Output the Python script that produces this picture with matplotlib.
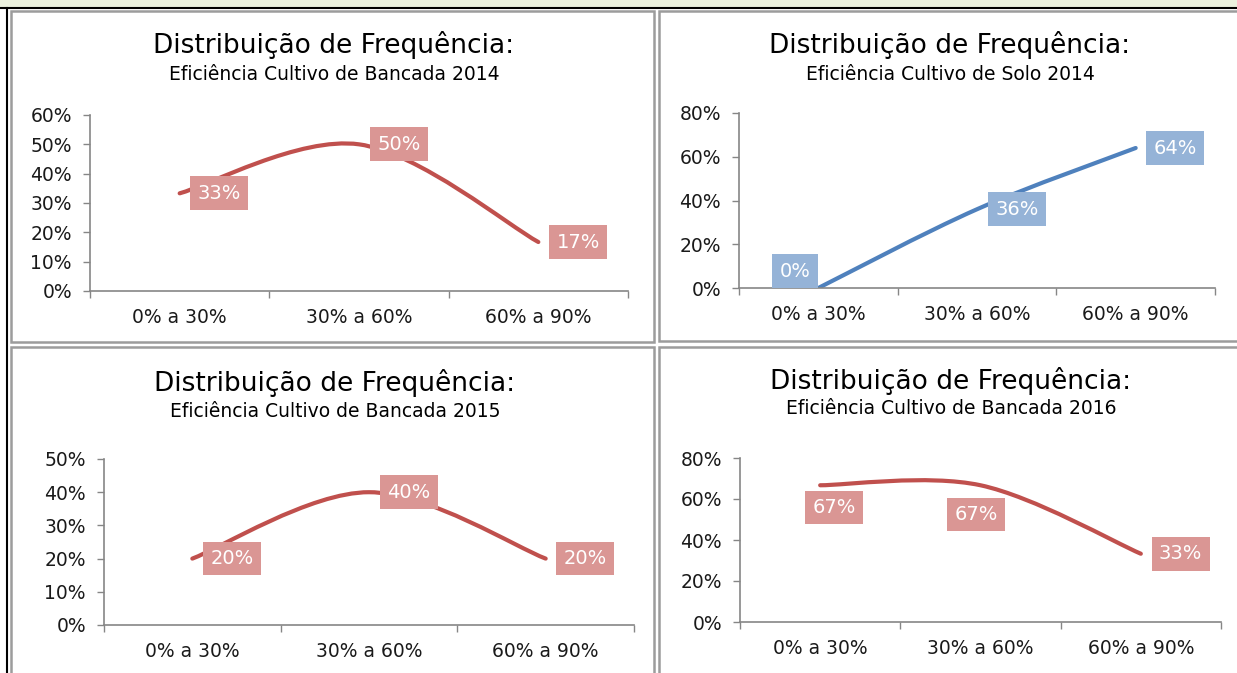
import matplotlib.pyplot as plt
from matplotlib.path import Path
from matplotlib.patches import PathPatch, Rectangle
from matplotlib.ticker import PercentFormatter

plt.rcParams['font.family'] = ['DejaVu Sans']

W, H = 1237, 673

categorias = ['0% a 30%', '30% a 60%', '60% a 90%']

bancada_2014 = [0.333, 0.50, 0.167]
solo_2014 = [0.0, 0.36, 0.64]
bancada_2015 = [0.20, 0.40, 0.20]
bancada_2016 = [0.667, 0.667, 0.333]

titulo = 'Distribuição de Frequência:'
subtitulos = ['Eficiência Cultivo de Bancada 2014',
              'Eficiência Cultivo de Solo 2014',
              'Eficiência Cultivo de Bancada 2015',
              'Eficiência Cultivo de Bancada 2016']

RED, RED_LBL = '#C0504D', '#DA9694'
BLUE, BLUE_LBL = '#4F81BD', '#95B3D7'
GRID = '#868686'


def px(x0, y0, x1, y1):
    # pixel box -> figure fraction [left, bottom, width, height]
    return [x0 / W, 1 - y1 / H, (x1 - x0) / W, (y1 - y0) / H]


def smooth_path(xs, ys):
    # Excel-like smoothed line: Catmull-Rom converted to cubic Bezier
    pts = list(zip(xs, ys))
    n = len(pts)
    verts = [pts[0]]
    codes = [Path.MOVETO]
    for i in range(n - 1):
        p0 = pts[i - 1] if i > 0 else pts[i]
        p1 = pts[i]
        p2 = pts[i + 1]
        p3 = pts[i + 2] if i + 2 < n else pts[i + 1]
        c1 = (p1[0] + (p2[0] - p0[0]) / 6, p1[1] + (p2[1] - p0[1]) / 6)
        c2 = (p2[0] - (p3[0] - p1[0]) / 6, p2[1] - (p3[1] - p1[1]) / 6)
        verts += [c1, c2, p2]
        codes += [Path.CURVE4] * 3
    return Path(verts, codes)


fig = plt.figure(figsize=(W / 100, H / 100), dpi=100)

# top strip and sheet borders
fig.add_artist(Rectangle((0, 1 - 7 / H), 1, 7 / H, transform=fig.transFigure,
                         facecolor='#EBF1DE', edgecolor='none', zorder=-2))
fig.add_artist(plt.Line2D([0, 1], [1 - 7.5 / H] * 2, transform=fig.transFigure,
                          color='black', lw=1.5, zorder=-1))
fig.add_artist(plt.Line2D([7.5 / W] * 2, [0, 1 - 7.5 / H], transform=fig.transFigure,
                          color='black', lw=1.5, zorder=-1))

panels = [(11, 11, 654, 342), (659, 11, 1245, 341),
          (11, 347, 654, 690), (659, 347, 1245, 690)]
for (x0, y0, x1, y1) in panels:
    fig.add_artist(Rectangle((x0 / W, 1 - y1 / H), (x1 - x0) / W, (y1 - y0) / H,
                             transform=fig.transFigure, facecolor='white',
                             edgecolor='#9C9C9C', lw=1.8, zorder=-1))

charts = [
    dict(vals=bancada_2014, box=(90, 115, 628, 291), ymax=0.6, step=0.1,
         color=RED, lbl=RED_LBL, title_x=334, title_y=45, sub_y=75,
         offs=[(13, 0), (13, 0), (13, 0)], ha=['left'] * 3),
    dict(vals=solo_2014, box=(739, 113, 1215, 288), ymax=0.8, step=0.2,
         color=BLUE, lbl=BLUE_LBL, title_x=950, title_y=45, sub_y=75,
         offs=[(-17, 12), (13, 0), (13, 0)], ha=['center', 'left', 'left']),
    dict(vals=bancada_2015, box=(104, 459, 634, 625), ymax=0.5, step=0.1,
         color=RED, lbl=RED_LBL, title_x=335, title_y=383, sub_y=411,
         offs=[(13, 0), (13, 0), (13, 0)], ha=['left'] * 3),
    dict(vals=bancada_2016, box=(740, 458, 1221, 622), ymax=0.8, step=0.2,
         color=RED, lbl=RED_LBL, title_x=951, title_y=381, sub_y=409,
         offs=[(10, -16), (-3, -21), (13, 0)], ha=['center', 'center', 'left']),
]

for c, sub in zip(charts, subtitulos):
    ax = fig.add_axes(px(*c['box']))
    ax.set_facecolor('none')
    xs = list(range(len(categorias)))
    ax.add_patch(PathPatch(smooth_path(xs, c['vals']), facecolor='none',
                           edgecolor=c['color'], lw=3, capstyle='round'))
    ax.set_xlim(-0.5, len(categorias) - 0.5)
    ax.set_ylim(0, c['ymax'])
    n = int(round(c['ymax'] / c['step']))
    ax.set_yticks([i * c['step'] for i in range(n + 1)])
    ax.yaxis.set_major_formatter(PercentFormatter(1.0, decimals=0))
    ax.set_xticks([i - 0.5 for i in range(len(categorias) + 1)])
    ax.set_xticklabels([])
    ax.set_xticks(xs, minor=True)
    ax.set_xticklabels(categorias, minor=True)
    ax.tick_params(axis='x', which='major', direction='out', length=5,
                   color=GRID, width=1)
    ax.tick_params(axis='x', which='minor', length=0, pad=12, labelsize=13.5,
                   labelcolor='#1a1a1a')
    ax.tick_params(axis='y', direction='out', length=5, color=GRID, width=1,
                   pad=8, labelsize=13.5, labelcolor='#1a1a1a')
    for s in ['top', 'right']:
        ax.spines[s].set_visible(False)
    for s in ['left', 'bottom']:
        ax.spines[s].set_color(GRID)
        ax.spines[s].set_linewidth(1.2)

    for x, v, off, ha in zip(xs, c['vals'], c['offs'], c['ha']):
        ax.annotate(f'{v * 100:.0f}%', (x, v), xytext=off, textcoords='offset points',
                    ha=ha, va='center', color='white', fontsize=14,
                    bbox=dict(boxstyle='square,pad=0.38', facecolor=c['lbl'],
                              edgecolor='none'))

    fig.text(c['title_x'] / W, 1 - c['title_y'] / H, titulo, ha='center',
             va='center', fontsize=19, color='black')
    fig.text(c['title_x'] / W, 1 - c['sub_y'] / H, sub, ha='center',
             va='center', fontsize=13.5, color='black')

fig.savefig('out.png', dpi=100)
